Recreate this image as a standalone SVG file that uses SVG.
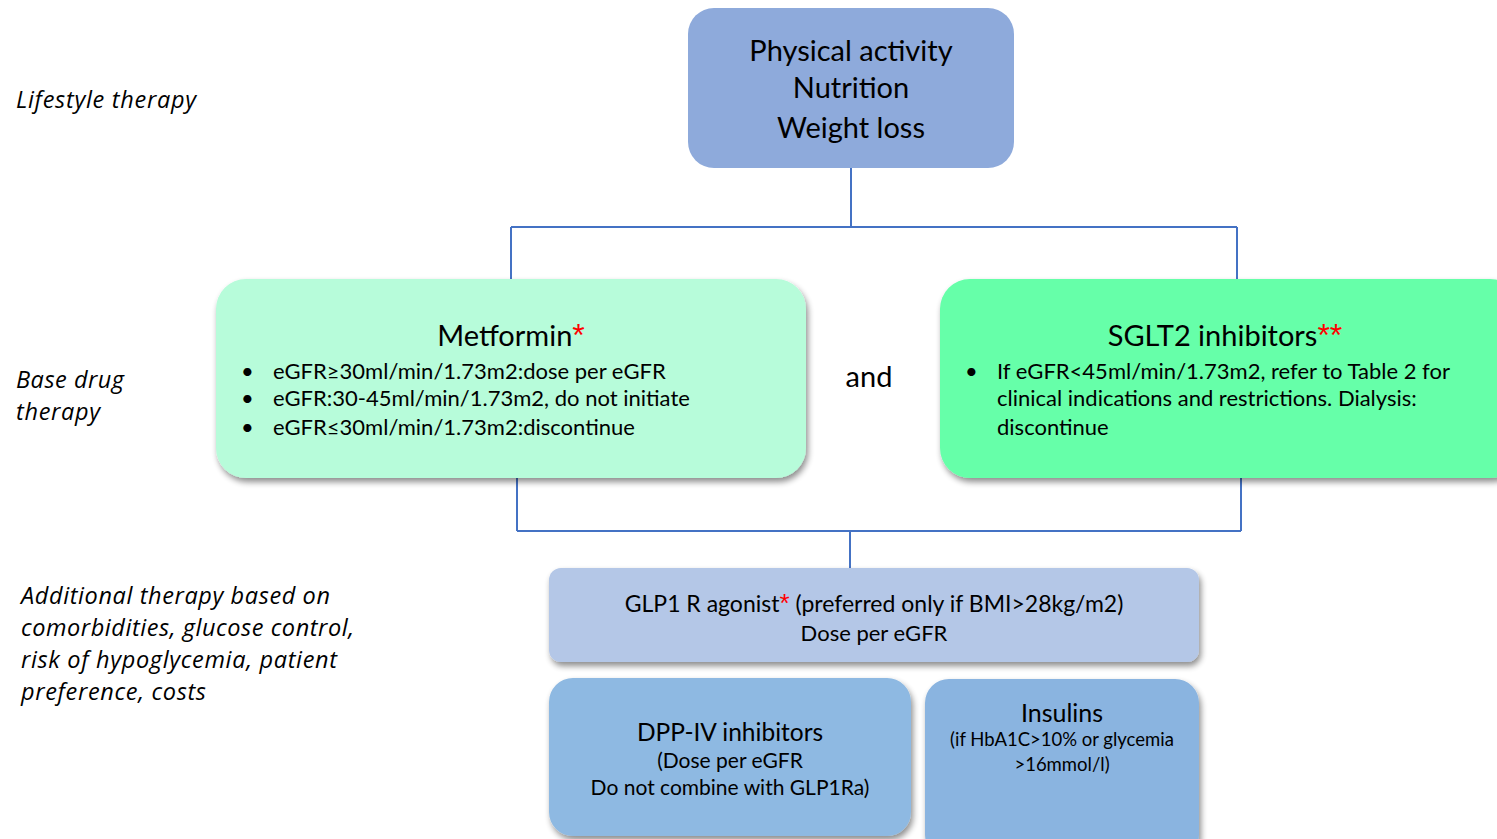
<svg xmlns="http://www.w3.org/2000/svg" width="1497" height="839" viewBox="0 0 1497 839">
  <defs>
    <filter id="shadow" x="-10%" y="-10%" width="125%" height="135%">
      <feGaussianBlur in="SourceAlpha" stdDeviation="3"/>
      <feOffset dx="2" dy="4" result="b"/>
      <feComponentTransfer><feFuncA type="linear" slope="0.45"/></feComponentTransfer>
      <feMerge><feMergeNode/><feMergeNode in="SourceGraphic"/></feMerge>
    </filter>
  </defs>
  <style>
    text { font-family: Lato, "Open Sans", "Liberation Sans", sans-serif; fill: #000; }
    .side { font-family: "Open Sans", Lato, sans-serif; font-style: italic; font-size: 23.5px; }
    .title { font-size: 29px; text-anchor: middle; }
    .body { font-size: 22px; }
    .mid { text-anchor: middle; }
    .red { fill: #FF0000; font-family: "Liberation Sans", sans-serif; }
    .conn { stroke: #4472C4; stroke-width: 2; fill: none; }
  </style>
  <rect width="1497" height="839" fill="#FFFFFF"/>

  <!-- side labels -->
  <g id="labels">
    <text class="side" x="16" y="108" textLength="180">Lifestyle therapy</text>
    <text class="side" x="16" y="388" textLength="108">Base drug</text>
    <text class="side" x="16" y="420" textLength="84">therapy</text>
    <text class="side" x="21" y="604" textLength="309">Additional therapy based on</text>
    <text class="side" x="21" y="636" textLength="333">comorbidities, glucose control,</text>
    <text class="side" x="21" y="668" textLength="316">risk of hypoglycemia, patient</text>
    <text class="side" x="21" y="700" textLength="185">preference, costs</text>
  </g>

  <!-- connectors -->
  <g id="connectors">
    <path class="conn" d="M851 168 V227 M511 227 H1237 M511 227 V279 M1237 227 V279"/>
    <path class="conn" d="M517 478 V531 M1241 478 V531 M517 531 H1241 M850 531 V568"/>
  </g>

  <!-- lifestyle -->
  <g id="lifestyle">
    <rect x="688" y="8" width="326" height="160" rx="26" fill="#8EAADB"/>
    <text class="title" x="851" y="61">Physical activity</text>
    <text class="title" x="851" y="98">Nutrition</text>
    <text class="title" x="851" y="138">Weight loss</text>
  </g>

  <!-- metformin -->
  <g id="metformin">
    <rect x="216" y="279" width="590" height="199" rx="30" fill="#B7FCDA" filter="url(#shadow)"/>
    <text class="title" x="511" y="346">Metformin<tspan class="red" font-size="32">*</tspan></text>
    <text class="body" x="241" y="379">•</text>
    <text class="body" x="273" y="379">eGFR≥30ml/min/1.73m2:dose per eGFR</text>
    <text class="body" x="241" y="406">•</text>
    <text class="body" x="273" y="406">eGFR:30-45ml/min/1.73m2, do not initiate</text>
    <text class="body" x="241" y="435">•</text>
    <text class="body" x="273" y="435">eGFR≤30ml/min/1.73m2:discontinue</text>
  </g>

  <g id="and">
    <text class="title" x="869" y="387" font-size="30">and</text>
  </g>

  <!-- sglt2 -->
  <g id="sglt2">
    <rect x="940" y="279" width="580" height="199" rx="30" fill="#66FFA9" filter="url(#shadow)"/>
    <text class="title" x="1225" y="346">SGLT2 inhibitors<tspan class="red" font-size="32">**</tspan></text>
    <text class="body" x="965" y="379">•</text>
    <text class="body" x="997" y="379">If eGFR&lt;45ml/min/1.73m2, refer to Table 2 for</text>
    <text class="body" x="997" y="406">clinical indications and restrictions. Dialysis:</text>
    <text class="body" x="997" y="435">discontinue</text>
  </g>

  <!-- glp1 -->
  <g id="glp1">
    <rect x="549" y="568" width="650" height="94" rx="12" fill="#B4C7E7" filter="url(#shadow)"/>
    <text class="mid" x="874" y="612" font-size="23">GLP1 R agonist<tspan class="red" font-size="26">*</tspan> (preferred only if BMI&gt;28kg/m2)</text>
    <text class="body mid" x="874" y="641">Dose per eGFR</text>
  </g>

  <!-- dpp4 -->
  <g id="dpp4">
    <rect x="549" y="678" width="362" height="158" rx="24" fill="#8EB9E2" filter="url(#shadow)"/>
    <text class="mid" x="730" y="741" font-size="24.5">DPP-IV inhibitors</text>
    <text class="mid" x="730" y="768" font-size="21">(Dose per eGFR</text>
    <text class="mid" x="730" y="795" font-size="21">Do not combine with GLP1Ra)</text>
  </g>

  <!-- insulins -->
  <g id="insulins">
    <rect x="925" y="679" width="274" height="180" rx="24" fill="#8AB4E0" filter="url(#shadow)"/>
    <text class="mid" x="1062" y="722" font-size="25">Insulins</text>
    <text class="mid" x="1062" y="746" font-size="18.5">(if HbA1C&gt;10% or glycemia</text>
    <text class="mid" x="1062" y="771" font-size="18.5">&gt;16mmol/l)</text>
  </g>
</svg>
